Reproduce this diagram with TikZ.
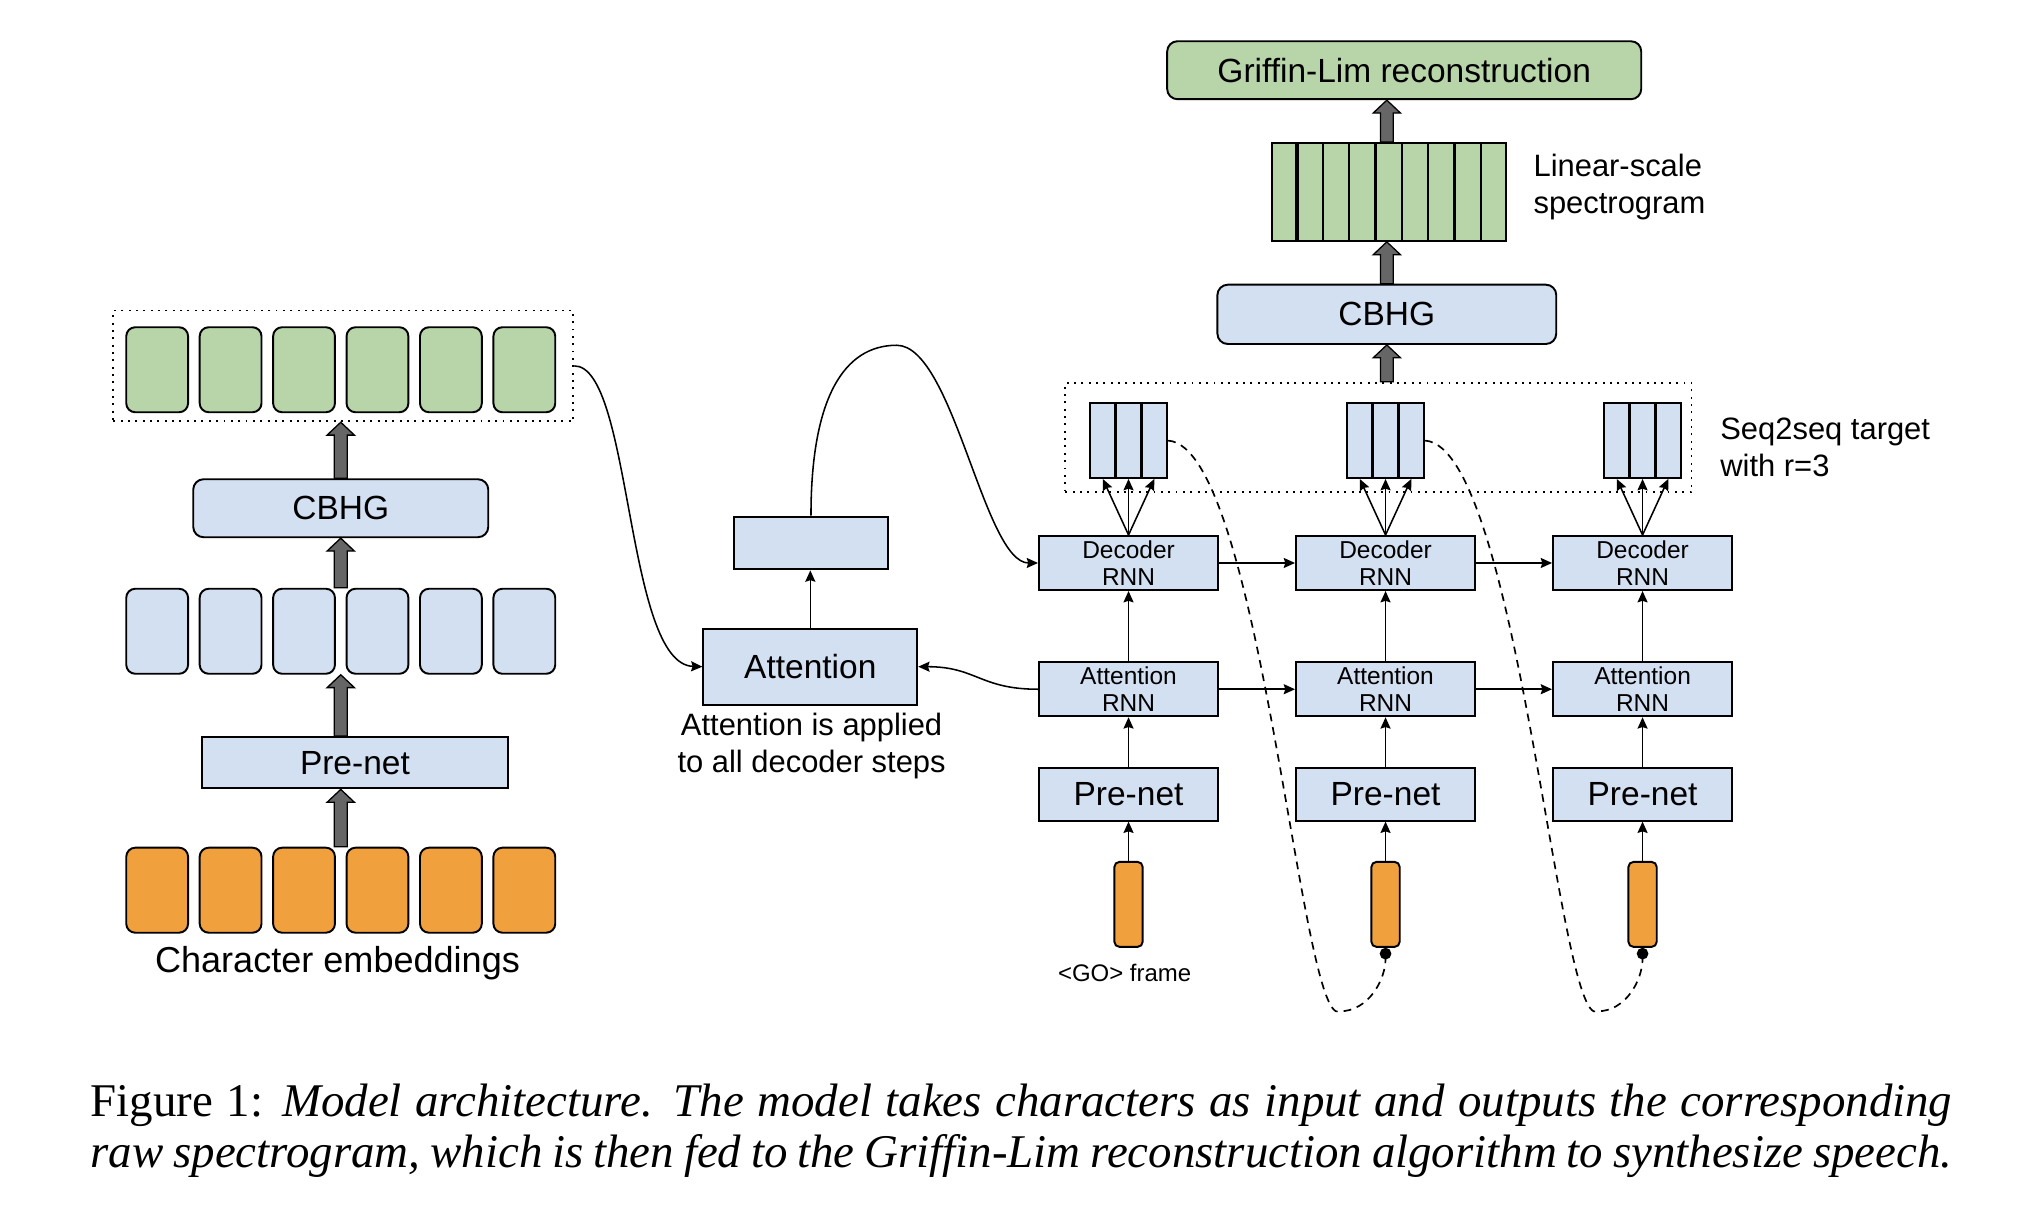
\documentclass[tikz,border=0pt]{standalone}
\usepackage{fontspec}
\setmainfont{Liberation Sans}
\newfontfamily\capfont{Liberation Serif}
\usetikzlibrary{arrows.meta,fit,calc}
\definecolor{gfill}{HTML}{B8D5A9}
\definecolor{bfill}{HTML}{D3E0F1}
\definecolor{ofill}{HTML}{F0A03C}
\definecolor{arrfill}{HTML}{666666}
\tikzset{
  base/.style={draw=black, line width=0.75pt, inner sep=0pt},
  rbox/.style={base, rounded corners=4pt},
  sqr/.style={base, rounded corners=3.5pt},
  dotbox/.style={draw=black, line width=0.75pt, dash pattern=on 0.75pt off 2.1pt, inner sep=0pt},
  conn/.style={line width=0.6pt, -{Stealth[length=4.4pt,width=3.9pt,inset=0.6pt]}},
  fat/.style={fill=arrfill, draw=black, line width=0.5pt},
  txt/.style={draw=none, fill=none, inner sep=0pt, align=center},
  big/.style={txt, font=\fontsize{13}{15}\selectfont},
  small/.style={txt, font=\fontsize{9.5}{10.5}\selectfont},
  lbl/.style={font=\fontsize{12}{14.5}\selectfont, inner sep=0pt},
  dashconn/.style={line width=0.65pt, dash pattern=on 3pt off 2.3pt, -{Circle[length=4.5pt]}},
  capt/.style={anchor=base west, inner sep=0pt, font=\capfont\fontsize{18.2}{19.5}\selectfont},
}
\newcommand\fatarrow[2]{\path[fat] let \p1=#1, \p2=#2 in
  ({\x1-2.5pt},\y1) -- ({\x1-2.5pt},{\y2-5pt}) -- ({\x1-5.3pt},{\y2-5pt}) -- (\x1,\y2)
  -- ({\x1+5.3pt},{\y2-5pt}) -- ({\x1+2.5pt},{\y2-5pt}) -- ({\x1+2.5pt},\y1) -- cycle;}
\begin{document}
\begin{tikzpicture}[x=0.5pt,y=-0.5pt]
\useasboundingbox (0,0) rectangle (1568,938);

% ---------------- left: encoder ----------------
\node[dotbox, fit={(88,241) (445,327)}] (ld) {};
\foreach \i in {1,...,6} {
  \pgfmathsetmacro\xa{98+(\i-1)*57}
  \pgfmathsetmacro\xb{\xa+48}
  \node[sqr, fill=gfill, fit={(\xa,254) (\xb,320)}] (g\i) {};
  \node[sqr, fill=bfill, fit={(\xa,457) (\xb,523)}] (b\i) {};
  \node[sqr, fill=ofill, fit={(\xa,658) (\xb,724)}] (o\i) {};
}
\node[rbox, fill=bfill, fit={(150,372) (379,417)}, label={[big]center:CBHG}] (lcbhg) {};
\node[base, fill=bfill, fit={(157,572) (394,612)}, label={[big]center:Pre-net}] (lpre) {};
\node[font=\fontsize{14}{16}\selectfont, inner sep=0pt] (cemb) at (262,748) {Character embeddings};

\fatarrow{(lcbhg.north)}{(ld.south)}
\fatarrow{(lcbhg.north |- b3.north)}{(lcbhg.south)}
\fatarrow{(lcbhg.north |- lpre.north)}{(b3.south)}
\fatarrow{(lcbhg.north |- o3.north)}{(lpre.south)}

% ---------------- middle: attention ----------------
\node[base, fill=bfill, fit={(546,488) (712,547)}, label={[big]center:Attention}] (att) {};
\node[base, fill=bfill, fit={(570,401) (689,442)}] (emp) {};
\node[lbl, align=center] (attlbl) at (630,579) {Attention is applied\\to all decoder steps};
\draw[conn] (att.north) -- (att.north |- emp.south);
\draw[conn] (ld.east) .. controls +(45,0) and +(-60,-2) .. (att.west);

% ---------------- right: decoder ----------------
\node[rbox, fill=gfill, fit={(906,32) (1274,77)}, label={[big]center:Griffin-Lim reconstruction}] (gl) {};
\node[base, fill=gfill, fit={(987,111) (1169,187)}] (spec) {};
\foreach \k in {1,...,8} {
  \pgfmathsetmacro\lw{(\k==1||\k==4||\k==7) ? 1.4 : 0.75}
  \draw[line width=\lw pt] ($(spec.north west)!\k/9!(spec.north east)$) -- ($(spec.south west)!\k/9!(spec.south east)$);
}
\node[lbl, anchor=west, align=left] (speclbl) at (1190,145) {Linear-scale\\spectrogram};
\node[rbox, fill=bfill, fit={(945,221) (1208,267)}, label={[big]center:CBHG}] (rcbhg) {};
\node[dotbox, fit={(827,297) (1313,382)}] (rd) {};
\node[lbl, anchor=west, align=left] (seqlbl) at (1335,347) {Seq2seq target\\with r=3};

\foreach \cx [count=\i] in {876,1075.5,1275} {
  \node[base, fill=bfill, fit={(\cx-69.5,416) (\cx+69.5,458)}, label={[small]center:{Decoder\\RNN}}] (dec\i) {};
  \node[base, fill=bfill, fit={(\cx-69.5,514) (\cx+69.5,556)}, label={[small]center:{Attention\\RNN}}] (arn\i) {};
  \node[base, fill=bfill, fit={(\cx-69.5,596) (\cx+69.5,637)}, label={[big]center:Pre-net}] (pre\i) {};
  \node[base, fill=ofill, rounded corners=2pt, fit={(\cx-11,669) (\cx+11,735)}] (or\i) {};
  \node[base, fill=bfill, fit={(\cx-30,313) (\cx+30,371)}] (f\i) {};
  \draw[line width=1.2pt] ($(f\i.north)+(-10,0)$) -- ($(f\i.south)+(-10,0)$);
  \draw[line width=1.2pt] ($(f\i.north)+(10,0)$) -- ($(f\i.south)+(10,0)$);
  \draw[conn] (or\i.north) -- (pre\i.south);
  \draw[conn] (pre\i.north) -- (arn\i.south);
  \draw[conn] (arn\i.north) -- (dec\i.south);
  \draw[conn] (dec\i.north) -- ($(f\i.south)+(-20,0)$);
  \draw[conn] (dec\i.north) -- (f\i.south);
  \draw[conn] (dec\i.north) -- ($(f\i.south)+(20,0)$);
}
\node[font=\fontsize{9.3}{11}\selectfont, inner sep=0pt] (golbl) at (873,755) {<GO> frame};

\draw[conn] (dec1.east) -- (dec2.west);
\draw[conn] (dec2.east) -- (dec3.west);
\draw[conn] (arn1.east) -- (arn2.west);
\draw[conn] (arn2.east) -- (arn3.west);

\fatarrow{(rcbhg.north)}{(spec.south)}
\fatarrow{(rcbhg.north |- spec.north)}{(gl.south)}
\fatarrow{(rcbhg.north |- rd.north)}{(rcbhg.south)}

% attention connections
\coordinate (peak) at (696,268);
\draw[conn] (emp.north) .. controls +(0,-91) and +(-41,0) .. (peak)
  .. controls +(44,0) and +(-42,0) .. (dec1.west);
\draw[conn] (arn1.west) .. controls +(-45,0) and +(45,0) .. (att.east);

% feedback (dashed)
\coordinate (bot1) at (1040,785);
\coordinate (bot2) at (1240,785);
\draw[dashconn] (f1.east) .. controls +(72,5) and +(-30,15) .. (bot1)
  .. controls +(22,0) and +(0,25) .. (or2.south);
\draw[dashconn] (f2.east) .. controls +(72,5) and +(-30,15) .. (bot2)
  .. controls +(22,0) and +(0,25) .. (or3.south);

% caption
\node[capt] (cap1) at (70,867)
  {\makebox[722.5pt][s]{Figure 1: \itshape Model architecture. The model takes characters as input and outputs the corresponding}};
\node[capt] (cap2) at (70,906)
  {\itshape\makebox[722.5pt][s]{raw spectrogram, which is then fed to the Griffin-Lim reconstruction algorithm to synthesize speech.}};
\end{tikzpicture}
\end{document}
